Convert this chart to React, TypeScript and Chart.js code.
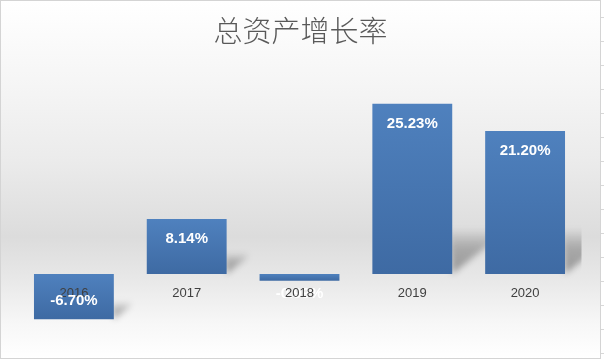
import React, { useEffect, useRef } from "react";
import { Chart, registerables } from "chart.js";

Chart.register(...registerables);

const titleText = "总资产增长率";
const categories = ["2016", "2017", "2018", "2019", "2020"];
const growthRates = [-6.7, 8.14, -0.99, 25.23, 21.2];
const valueLabels = ["-6.70%", "8.14%", "-0.99%", "25.23%", "21.20%"];

const W = 604;
const H = 360;

const bgPlugin = {
  id: "bgPlugin",
  beforeDraw(chart: any) {
    const ctx = chart.ctx;
    ctx.save();
    const g = ctx.createLinearGradient(0, 0, 0, 359);
    g.addColorStop(0, "#ffffff");
    g.addColorStop(0.22, "#f6f6f6");
    g.addColorStop(0.45, "#ebebeb");
    g.addColorStop(0.66, "#dcdcdc");
    g.addColorStop(0.77, "#e7e7e7");
    g.addColorStop(0.9, "#f7f7f7");
    g.addColorStop(1, "#ffffff");
    ctx.fillStyle = g;
    ctx.fillRect(0, 0, 601, 359);
    ctx.fillStyle = "#ffffff";
    ctx.fillRect(601, 0, 3, 360);
    ctx.fillRect(0, 359, 604, 1);
    ctx.strokeStyle = "#d4d4d4";
    ctx.lineWidth = 1;
    ctx.strokeRect(0.5, 0.5, 600, 358);
    ctx.strokeStyle = "#d8d8d8";
    for (let y = 17; y < 360; y += 24) {
      ctx.beginPath();
      ctx.moveTo(601, y + 0.5);
      ctx.lineTo(604, y + 0.5);
      ctx.stroke();
    }
    ctx.fillStyle = "#595959";
    ctx.font = '300 29px "Noto Sans CJK SC", sans-serif';
    ctx.textAlign = "center";
    ctx.textBaseline = "middle";
    ctx.fillText(titleText, 300.5, 31);
    ctx.restore();
  },
};

const shadowPlugin = {
  id: "shadowPlugin",
  beforeDatasetsDraw(chart: any) {
    const ctx = chart.ctx;
    const area = chart.chartArea;
    const meta = chart.getDatasetMeta(0);
    ctx.save();
    ctx.beginPath();
    ctx.rect(area.left, area.top, area.right - area.left, area.bottom - area.top);
    ctx.clip();
    meta.data.forEach((bar: any) => {
      const { x, y, base, width } = bar.getProps(["x", "y", "base", "width"], true);
      const right = x + width / 2;
      const bottom = Math.max(y, base);
      const top = Math.min(y, base);
      const h = bottom - top;
      if (h < 12) return;
      const sh = Math.min(44, h * 0.38);
      ctx.save();
      ctx.filter = "blur(3px)";
      const g = ctx.createLinearGradient(0, bottom - sh, 0, bottom);
      g.addColorStop(0, "rgba(0,0,0,0.02)");
      g.addColorStop(0.4, "rgba(0,0,0,0.24)");
      g.addColorStop(1, "rgba(0,0,0,0.34)");
      ctx.fillStyle = g;
      ctx.beginPath();
      ctx.moveTo(right - 3, bottom - sh);
      ctx.lineTo(right + sh, bottom - sh);
      ctx.lineTo(right + sh, bottom - sh * 0.8);
      ctx.lineTo(right, bottom);
      ctx.closePath();
      ctx.fill();
      ctx.restore();
    });
    ctx.restore();
  },
};

const labelPlugin = {
  id: "labelPlugin",
  afterDatasetsDraw(chart: any) {
    const ctx = chart.ctx;
    const meta = chart.getDatasetMeta(0);
    const zero = chart.scales.y.getPixelForValue(0);
    const valueFont = 'bold 15px "Liberation Sans", Arial, sans-serif';
    const catFont = '13px "Liberation Sans", Arial, sans-serif';
    ctx.save();
    ctx.textAlign = "center";
    ctx.textBaseline = "middle";
    const big: any[] = [];
    meta.data.forEach((bar: any, i: number) => {
      const { x, y, base } = bar.getProps(["x", "y", "base"], true);
      const bottom = Math.max(y, base);
      const top = Math.min(y, base);
      const h = bottom - top;
      if (h < 20) {
        ctx.font = valueFont;
        ctx.fillStyle = "#ffffff";
        ctx.fillText(valueLabels[i], x, zero + 19.5);
      } else {
        big.push({ x, ly: growthRates[i] >= 0 ? top + 20 : bottom - 18, i });
      }
    });
    ctx.font = catFont;
    ctx.fillStyle = "#404040";
    meta.data.forEach((bar: any, i: number) => {
      ctx.fillText(categories[i], bar.x, zero + 19.5);
    });
    ctx.font = valueFont;
    ctx.fillStyle = "#ffffff";
    big.forEach((b) => ctx.fillText(valueLabels[b.i], b.x, b.ly));
    ctx.restore();
  },
};

export default function App() {
  const ref = useRef<HTMLCanvasElement | null>(null);
  useEffect(() => {
    if (!ref.current) return;
    document.body.style.margin = "0";
    const chart = new Chart(ref.current, {
      type: "bar",
      data: {
        labels: categories,
        datasets: [
          {
            data: growthRates,
            backgroundColor: (c: any) => {
              const ch = c.chart;
              if (!ch.chartArea || !ch.scales || !ch.scales.y) return "#4a7cb9";
              const v = c.raw as number;
              const ys = ch.scales.y;
              const p1 = ys.getPixelForValue(Math.max(v, 0));
              const p2 = ys.getPixelForValue(Math.min(v, 0));
              if (!isFinite(p1) || !isFinite(p2) || p1 === p2) return "#4a7cb9";
              const g = ch.ctx.createLinearGradient(0, p1, 0, p2);
              g.addColorStop(0, "#4f81be");
              g.addColorStop(1, "#3e6aa3");
              return g;
            },
            borderWidth: 0,
            barPercentage: 0.708,
            categoryPercentage: 1,
          },
        ],
      },
      options: {
        animation: false,
        responsive: false,
        devicePixelRatio: 1,
        layout: { padding: { top: 71.5, bottom: 5, left: 17.5, right: 22.5 } },
        plugins: { legend: { display: false }, tooltip: { enabled: false }, title: { display: false } },
        scales: {
          x: { display: false },
          y: { display: false, min: -12, max: 30 },
        },
      },
      plugins: [bgPlugin, shadowPlugin, labelPlugin],
    });
    return () => chart.destroy();
  }, []);
  return (
    <div style={{ position: "absolute", left: 0, top: 0, width: W, height: H }}>
      <canvas ref={ref} width={W} height={H} style={{ width: W, height: H, display: "block" }} />
    </div>
  );
}
